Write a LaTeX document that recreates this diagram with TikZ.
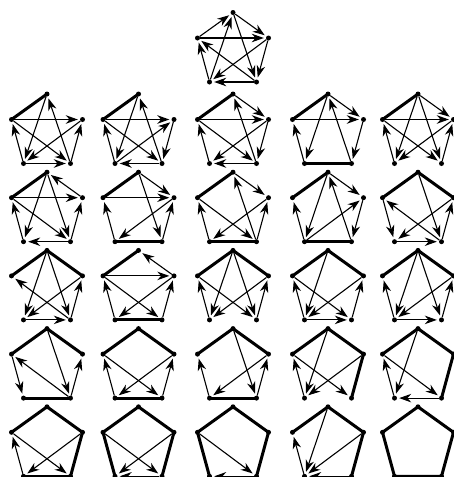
\documentclass[tikz,border=0pt]{standalone}
\usetikzlibrary{arrows.meta}
\newcommand\mkpent[3]{%
  \node[vtx] (#1T) at (#2,#3) {};
  \path (#2,#3) +(-35.5,25.5) node[vtx] (#1L) {};
  \path (#2,#3) +(35.5,25.5) node[vtx] (#1R) {};
  \path (#2,#3) +(-23.5,69.5) node[vtx] (#1A) {};
  \path (#2,#3) +(23.5,69.5) node[vtx] (#1B) {};
}
\newcommand\pg[5]{%
  \mkpent{#1}{#2}{#3}
  \foreach \a/\b in {#4} {\draw[thk] (#1\a.center) -- (#1\b.center);}
  \foreach \a/\b in {#5} {\draw[arr] (#1\a) -- (#1\b);}
}
\begin{document}
\begin{tikzpicture}[x=1pt,y=-1pt,
  vtx/.style={circle,fill=black,inner sep=0pt,minimum size=5pt},
  arr/.style={line width=1.1pt,-{Stealth[length=12pt,width=8.5pt,inset=3.8pt]},shorten >=2pt},
  thk/.style={line width=3pt,line cap=round,line join=round}]
\useasboundingbox (0,0) rectangle (453,477);
% top tournament
\mkpent{t}{233}{12.5}
\foreach \a/\b in {L/T, L/R, T/R, T/B, R/B, R/A, B/A, B/L, A/L, A/T} {\draw[arr] (t\a) -- (t\b);}
% row 1
\pg{ra}{47}{94}{T/L}{L/R, L/B, A/L, A/B, B/R, B/T, T/A, R/A}
\pg{rb}{138.5}{94}{T/L}{L/R, A/R, L/B, R/B, A/L, B/A, B/T, T/A}
\pg{rc}{233}{94}{T/L}{T/R, L/R, B/T, L/B, R/A, B/A, A/L, R/B}
\pg{rd}{328}{94}{T/L, A/B}{T/R, L/R, T/A, B/T, A/L, R/B}
\pg{re}{418}{94}{T/L}{T/R, L/R, T/A, T/B, L/B, R/A, A/L, B/R}
% row 2
\pg{sa}{47}{172.2}{T/L}{R/T, L/R, T/A, T/B, L/B, A/L, B/A, B/R}
\pg{sb}{138.5}{172.2}{T/L, A/B}{T/R, L/R, T/B, R/A, A/L, B/R}
\pg{sc}{233}{172.2}{T/L, A/B}{T/R, B/T, R/A, L/B, B/R, A/L}
\pg{sd}{328}{172.2}{T/L, A/B}{T/R, T/A, B/T, A/R, A/L, R/B}
\pg{se}{418}{172.2}{T/L, T/R}{B/L, T/B, L/A, A/B, R/A, B/R}
% row 3
\pg{ua}{47}{250.4}{T/L, T/R}{T/A, T/B, B/L, R/A, A/B, B/R}
\pg{ub}{138.5}{250.4}{T/L, A/B}{R/T, L/R, L/B, R/A, A/L, B/R}
\pg{uc}{233}{250.4}{T/L, T/R}{T/A, T/B, R/A, B/R, A/L, L/B}
\pg{ud}{328}{250.4}{T/L, T/R}{T/A, L/B, R/A, A/L, B/R, A/B}
\pg{ue}{418}{250.4}{T/L, T/R}{T/A, T/B, A/L, A/B, R/A, B/R}
% row 4
\pg{va}{47}{328.6}{T/L, T/R, A/B}{L/A, T/B, B/L, B/R}
\pg{vb}{138.5}{328.6}{T/L, T/R, A/B}{L/B, R/A, A/L, B/R}
\pg{vc}{233}{328.6}{T/L, T/R, A/B}{T/B, R/A, B/R, A/L}
\pg{vd}{328}{328.6}{T/L, T/R, R/B}{T/A, L/B, R/A, A/L}
\pg{ve}{418}{328.6}{T/L, T/R, R/B}{T/A, L/B, A/L, B/A}
% row 5
\pg{wa}{47}{406.8}{T/L, T/R, R/B, A/B}{L/B, R/A, A/L}
\pg{wb}{138.5}{406.8}{T/L, T/R, L/A, R/B}{L/B, R/A, B/A}
\pg{wc}{233}{406.8}{T/L, T/R, R/B, L/A}{L/B, B/A}
\pg{wd}{328}{406.8}{T/L, T/R, R/B}{T/A, R/A, A/L, B/A}
\mkpent{we}{418}{406.8}
\draw[thk] (weT.center) -- (weR.center) -- (weB.center) -- (weA.center) -- (weL.center) -- cycle;
\end{tikzpicture}
\end{document}
